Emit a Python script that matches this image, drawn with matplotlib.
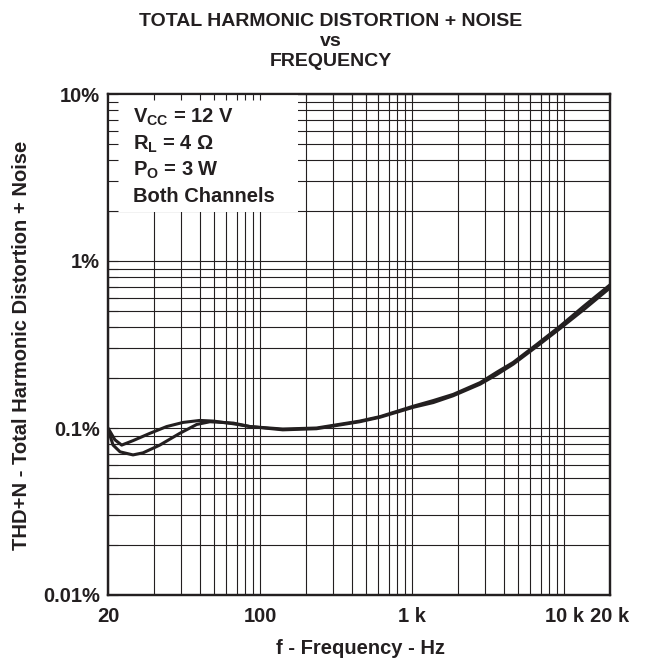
import matplotlib
matplotlib.use("Agg")
import matplotlib.pyplot as plt
from matplotlib.patches import Rectangle
from matplotlib.ticker import LogLocator, NullFormatter, FixedLocator

plt.rcParams['font.family'] = ['Liberation Sans', 'DejaVu Sans']
plt.rcParams['font.weight'] = 'bold'
plt.rcParams['mathtext.fontset'] = 'custom'
plt.rcParams['mathtext.rm'] = 'Liberation Sans:bold'
plt.rcParams['mathtext.it'] = 'Liberation Sans:bold'
plt.rcParams['mathtext.bf'] = 'Liberation Sans:bold'

INK = '#231f20'

# curve values (grid frequency in Hz, THD+N in %)
freq_a = [10, 11.1, 12.3, 14.6, 18.9, 24.3, 31.2, 40.2, 49.4, 66.7, 85.9, 141, 235,
          452, 615, 1016, 1377, 1862, 2800, 3606, 4617, 6637, 9415, 13400, 20000]
thd_a = [0.100, 0.085, 0.079, 0.084, 0.093, 0.102, 0.108, 0.111, 0.110, 0.106, 0.102,
         0.0986, 0.100, 0.110, 0.117, 0.135, 0.146, 0.159, 0.187, 0.216, 0.247, 0.318,
         0.408, 0.535, 0.72]

freq_b = [10, 10.8, 12.0, 14.6, 17.0, 21.9, 29.7, 38.3, 46.8, 66.7, 85.9, 141, 235,
          452, 615, 1016, 1377, 1862, 2800, 3606, 4617, 6637, 9415, 13400, 20000]
thd_b = [0.098, 0.079, 0.072, 0.069, 0.071, 0.079, 0.093, 0.105, 0.109, 0.107, 0.102,
         0.0975, 0.099, 0.109, 0.116, 0.133, 0.142, 0.156, 0.183, 0.209, 0.241, 0.309,
         0.395, 0.51, 0.69]

x_ticks = [10, 100, 1000, 10000, 20000]
x_labels = ['20', '100', '1 k', '10 k', '20 k']
y_ticks = [0.01, 0.1, 1, 10]
y_labels = ['0.01%', '0.1%', '1%', '10%']

cond_lines = [r'V$_{\mathrm{CC}}$ = 12 V', r'R$_{\mathrm{L}}$ = 4 Ω',
              r'P$_{\mathrm{O}}$ = 3 W', 'Both Channels']

fig = plt.figure(figsize=(6.45, 6.61), dpi=100)
pos = [108 / 645, 66 / 661, 502 / 645, 501 / 661]
ax = fig.add_axes(pos)
ax.set_xscale('log')
ax.set_yscale('log')
ax.set_xlim(10, 20000)
ax.set_ylim(0.01, 10)

ax.plot(freq_a, thd_a, color=INK, lw=2.2, zorder=4, solid_capstyle='round')
ax.plot(freq_b, thd_b, color=INK, lw=2.2, zorder=4, solid_capstyle='round')

ax.xaxis.set_major_locator(FixedLocator(x_ticks))
ax.xaxis.set_minor_locator(LogLocator(base=10, subs=range(2, 10), numticks=20))
ax.xaxis.set_minor_formatter(NullFormatter())
ax.set_xticklabels(x_labels)
ax.yaxis.set_major_locator(FixedLocator(y_ticks))
ax.yaxis.set_minor_locator(LogLocator(base=10, subs=range(2, 10), numticks=20))
ax.yaxis.set_minor_formatter(NullFormatter())
ax.set_yticklabels(y_labels)

ax.grid(True, which='both', color=INK, lw=0.8)
ax.tick_params(which='both', length=0, labelsize=14.5, colors=INK)
ax.tick_params(axis='x', pad=9)
ax.tick_params(axis='y', pad=6)
for s in ax.spines.values():
    s.set_linewidth(1.6)
    s.set_color(INK)

# white box with the test conditions
ax.add_patch(Rectangle((0, 0.7645), 0.3785, 0.2355, transform=ax.transAxes,
                       facecolor='white', edgecolor='none', zorder=2.6))
for i, t in enumerate(cond_lines):
    fig.text(133 / 645, 1 - (123 + 26.3 * i) / 661, t, fontsize=14.5,
             fontweight='bold', color=INK, va='baseline', ha='left', zorder=5)

# overlay with inward ticks for the box edges
ax2 = fig.add_axes(pos, sharex=ax, sharey=ax, facecolor='none')
ax2.tick_params(which='both', direction='in', left=True, top=True, bottom=False,
                right=False, labelleft=False, labelbottom=False, color=INK, width=0.8)
ax2.tick_params(axis='y', which='both', length=7.5)
ax2.tick_params(axis='x', which='both', length=4.5)
for s in ax2.spines.values():
    s.set_linewidth(1.6)
    s.set_color(INK)

fig.text(331 / 645, 1 - 26.5 / 661, 'TOTAL HARMONIC DISTORTION + NOISE', ha='center',
         va='baseline', fontsize=14, fontweight='bold', color=INK)
fig.text(331 / 645, 1 - 46.5 / 661, 'vs', ha='center', va='baseline', fontsize=14,
         fontweight='bold', color=INK)
fig.text(331 / 645, 1 - 66 / 661, 'FREQUENCY', ha='center', va='baseline', fontsize=14,
         fontweight='bold', color=INK)

fig.text(360 / 645, 1 - 648 / 661, 'f - Frequency - Hz', ha='center', va='center',
         fontsize=14.5, fontweight='bold', color=INK)
fig.text(22 / 645, 1 - 345 / 661, 'THD+N - Total Harmonic Distortion + Noise',
         ha='center', va='center', rotation=90, fontsize=14.5, fontweight='bold', color=INK)

fig.savefig('out.png', dpi=100)
